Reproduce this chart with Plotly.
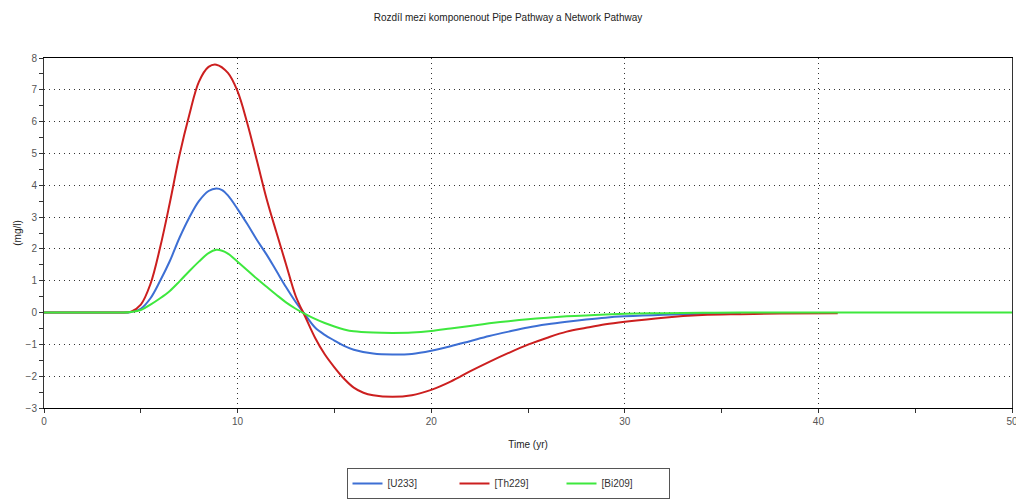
import plotly.graph_objects as go

title_text = "Rozdíl mezi komponenout Pipe Pathway a Network Pathway"
x_title = "Time (yr)"
y_title = "(mg/l)"
series_names = ["[U233]", "[Th229]", "[Bi209]"]
series_colors = ["#3d6fd4", "#cc1f1f", "#3ee83e"]

x_u233 = [0, 1, 2, 3, 3.5, 4, 4.5, 5, 5.5, 6, 6.5, 7, 7.5, 8, 8.5, 8.9, 9.2, 9.5, 10, 10.5, 11, 11.5,
          12, 12.5, 13, 13.5, 14, 14.5, 15, 15.5, 16, 17, 18, 19, 20, 21, 22, 23, 24, 25, 26, 27, 28,
          29, 30, 32, 34, 36]
y_u233 = [0, 0, 0, 0, 0, 0, 0.02, 0.12, 0.45, 1.0, 1.62, 2.35, 2.98, 3.5, 3.82, 3.9, 3.85, 3.68,
          3.25, 2.78, 2.28, 1.82, 1.31, 0.8, 0.33, -0.08, -0.47, -0.7, -0.88, -1.05, -1.17, -1.29,
          -1.32, -1.3, -1.2, -1.06, -0.9, -0.74, -0.6, -0.47, -0.37, -0.29, -0.22, -0.16, -0.12,
          -0.07, -0.04, -0.02]

x_th229 = [0, 1, 2, 3, 3.5, 4, 4.5, 5, 5.5, 6, 6.5, 7, 7.5, 8, 8.5, 8.9, 9.5, 10, 10.5, 11, 11.5, 12,
           12.5, 13, 13.5, 14, 14.5, 15, 15.5, 16, 16.5, 17, 18, 19, 20, 21, 22, 23, 24, 25, 26, 27, 28,
           29, 30, 32, 34, 36, 38, 41]
y_th229 = [0, 0, 0, 0, 0, 0, 0.03, 0.25, 0.9, 2.05, 3.45, 4.95, 6.2, 7.25, 7.72, 7.79, 7.53, 6.95,
           5.95, 4.77, 3.57, 2.53, 1.52, 0.52, -0.14, -0.79, -1.31, -1.72, -2.08, -2.36, -2.52, -2.6,
           -2.65, -2.6, -2.43, -2.17, -1.85, -1.55, -1.27, -1.01, -0.79, -0.6, -0.48, -0.37, -0.29,
           -0.16, -0.08, -0.05, -0.03, -0.02]

x_bi209 = [0, 1, 2, 3, 3.5, 4, 4.5, 5, 5.5, 6, 6.5, 7, 7.5, 8, 8.5, 8.9, 9.2, 9.5, 10, 10.5, 11, 11.5,
           12, 12.5, 13, 13.5, 14, 14.5, 15, 15.5, 16, 17, 18, 19, 20, 21, 22, 23, 24, 25, 26, 27, 28,
           29, 30, 32, 34, 36, 40, 45, 50]
y_bi209 = [0, 0, 0, 0, 0, 0, 0.02, 0.08, 0.25, 0.45, 0.68, 0.98, 1.3, 1.6, 1.87, 1.97, 1.94, 1.85,
           1.6, 1.33, 1.06, 0.81, 0.56, 0.32, 0.12, -0.05, -0.2, -0.33, -0.44, -0.53, -0.59, -0.63,
           -0.64, -0.63, -0.58, -0.5, -0.42, -0.34, -0.27, -0.21, -0.16, -0.12, -0.09, -0.06, -0.04,
           -0.02, -0.01, 0, 0, 0, 0]

xs = [x_u233, x_th229, x_bi209]
ys = [y_u233, y_th229, y_bi209]

fig = go.Figure()
for name, color, xv, yv in zip(series_names, series_colors, xs, ys):
    fig.add_trace(go.Scatter(x=xv, y=yv, mode="lines", name=name,
                             line=dict(color=color, width=2, shape="spline", smoothing=1.0)))

font_family = "Liberation Sans, Arial, sans-serif"

fig.update_layout(
    width=1016, height=501,
    margin=dict(l=44, r=4, t=58, b=93, autoexpand=False),
    paper_bgcolor="white", plot_bgcolor="white",
    title=dict(text=title_text, x=0.5, xanchor="center", y=0.965, yanchor="middle",
               font=dict(family=font_family, size=10, color="#222")),
    font=dict(family=font_family, size=10, color="#444"),
    showlegend=True,
    legend=dict(orientation="h", x=0.5, xanchor="center", xref="container", yref="container",
                y=0.004, yanchor="bottom", bordercolor="#555", borderwidth=1, bgcolor="white",
                font=dict(family=font_family, size=10, color="#333"),
                itemwidth=30, tracegroupgap=0, entrywidth=62),
)

fig.update_xaxes(
    range=[0, 50], tickvals=[0, 10, 20, 30, 40, 50], automargin=False,
    ticklabeloverflow="allow",
    showline=True, linecolor="black", linewidth=1, mirror=True,
    ticks="outside", ticklen=4, tickcolor="#333",
    minor=dict(dtick=5, ticks="outside", ticklen=4, tickcolor="#333", showgrid=False),
    showgrid=True, gridcolor="#333", griddash="1px,4px", gridwidth=1,
    zeroline=False,
    title=dict(text=x_title, font=dict(family=font_family, size=10, color="#222"), standoff=14),
    tickfont=dict(family=font_family, size=10, color="#555"),
)
fig.update_yaxes(
    range=[-3, 8], dtick=1, automargin=False,
    ticklabeloverflow="allow",
    showline=True, linecolor="#333", linewidth=1, mirror=True,
    ticks="outside", ticklen=4, tickcolor="#333",
    minor=dict(dtick=0.5, ticks="outside", ticklen=4, tickcolor="#333", showgrid=False),
    showgrid=True, gridcolor="#333", griddash="1px,4px", gridwidth=1,
    zeroline=False,
    title=dict(text=y_title, font=dict(family=font_family, size=10, color="#222"), standoff=2),
    tickfont=dict(family=font_family, size=10, color="#555"),
)

fig.write_html("out.html", config={"displayModeBar": False},
               post_script="document.body.style.margin='0';document.body.style.overflow='hidden';")
